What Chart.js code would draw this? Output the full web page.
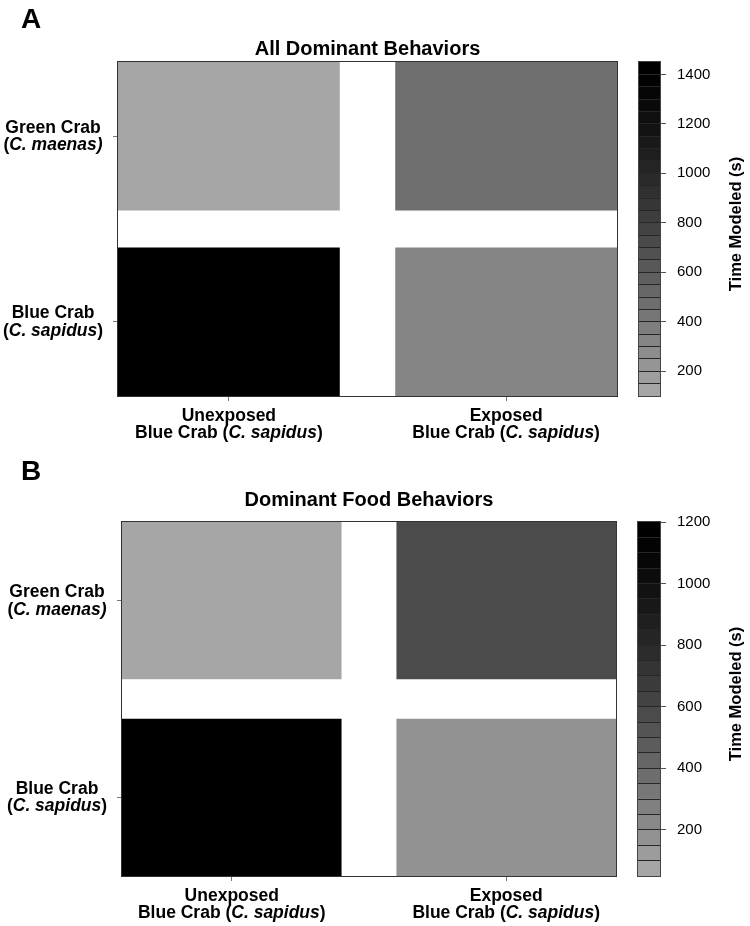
<!DOCTYPE html>
<html>
<head>
<meta charset="utf-8">
<script src="https://cdn.jsdelivr.net/npm/chart.js@4.4.1/dist/chart.umd.min.js"></script>
<style>
  html, body { margin: 0; padding: 0; background: #fff; }
  #wrap { position: relative; width: 750px; height: 926px; }
  #wrap canvas { position: absolute; left: 0; top: 0; }
</style>
</head>
<body>
<div id="wrap">
  <canvas id="heatA" width="750" height="926"></canvas>
  <canvas id="barA" width="750" height="926"></canvas>
  <canvas id="heatB" width="750" height="926"></canvas>
  <canvas id="barB" width="750" height="926"></canvas>
</div>
<script>
/* globals Chart:false */
(() => {
  'use strict'

  const FONT = "'Liberation Sans', Arial, Helvetica, sans-serif"
  Chart.defaults.font.family = FONT
  Chart.defaults.color = '#000'

  // columns: treatment of the focal blue crab
  const treatments = ['Unexposed', 'Exposed']
  // rows, top to bottom
  const species = ['Green Crab', 'Blue Crab']

  // time modeled (s), ordered like treatments
  const allGreen = [120, 470]
  const allBlue = [1440, 320]
  const foodGreen = [70, 560]
  const foodBlue = [1190, 170]

  // colour key ranges and ticks
  const allScale = [100, 1450]
  const foodScale = [50, 1200]
  const levelStep = 50
  const allTicks = [200, 400, 600, 800, 1000, 1200, 1400]
  const foodTicks = [200, 400, 600, 800, 1000, 1200]

  // tick labels, each line a list of [text, italic]
  const xLabelLines = treatments.map(t => [
    [[t, false]],
    [['Blue Crab (', false], ['C. sapidus', true], [')', false]]
  ])
  const yLabelLines = {
    'Green Crab': [[['Green Crab', false]], [['(', false], ['C. maenas)', true]]],
    'Blue Crab': [[['Blue Crab', false]], [['(', false], ['C. sapidus', true], [')', false]]]
  }

  const W = 750
  const H = 926
  const CELL = 0.8

  function grayFor(v, range) {
    const n = Math.round((range[1] - range[0]) / levelStep)
    const k = Math.min(n - 1, Math.max(0, Math.floor((v - range[0]) / levelStep)))
    const t = (n - 1 - k) / (n - 1)
    const g = Math.round(255 * 0.65 * Math.pow(t, 1.3))
    return `rgb(${g},${g},${g})`
  }

  function drawRich(ctx, segs, cx, y, size) {
    const fonts = segs.map(s => `${s[1] ? 'italic ' : ''}bold ${size}px ${FONT}`)
    let w = 0
    segs.forEach((s, k) => { ctx.font = fonts[k]; w += ctx.measureText(s[0]).width })
    let x = cx - w / 2
    ctx.textAlign = 'left'
    segs.forEach((s, k) => {
      ctx.font = fonts[k]
      ctx.fillText(s[0], x, y)
      x += ctx.measureText(s[0]).width
    })
  }

  function frame(chart, color) {
    const { ctx, chartArea: a } = chart
    ctx.save()
    ctx.strokeStyle = color
    ctx.lineWidth = 1
    ctx.strokeRect(a.left - 0.5, a.top - 0.5, a.right - a.left + 1, a.bottom - a.top + 1)
    ctx.restore()
  }

  const panelText = {
    id: 'panelText',
    afterDatasetsDraw(chart) {
      frame(chart, '#333')
    },
    afterDraw(chart, args, opts) {
      const { ctx, chartArea: a, scales } = chart
      ctx.save()
      ctx.fillStyle = '#000'
      ctx.textBaseline = 'alphabetic'

      ctx.font = `bold 28px ${FONT}`
      ctx.textAlign = 'left'
      ctx.fillText(opts.letter, opts.letterX, opts.letterY)

      ctx.font = `bold 20px ${FONT}`
      ctx.textAlign = 'center'
      ctx.fillText(opts.title, (a.left + a.right) / 2, opts.titleY)

      scales.x.ticks.forEach((tk, j) => {
        const x = scales.x.getPixelForValue(tk.value)
        drawRich(ctx, xLabelLines[j][0], x, a.bottom + 24.5, 17.5)
        drawRich(ctx, xLabelLines[j][1], x, a.bottom + 42, 17.5)
      })
      species.forEach((name, i) => {
        const y = scales.y.getPixelForValue(species.length - 1 - i)
        const lines = yLabelLines[name]
        drawRich(ctx, lines[0], a.left - 65, y - 3.5, 17.5)
        drawRich(ctx, lines[1], a.left - 65, y + 14, 17.5)
      })
      ctx.restore()
    }
  }

  const barTitle = {
    id: 'barTitle',
    afterDraw(chart, args, opts) {
      frame(chart, '#444')
      const { ctx, chartArea: a } = chart
      ctx.save()
      ctx.translate(opts.x, (a.top + a.bottom) / 2 - 5)
      ctx.rotate(-Math.PI / 2)
      ctx.font = `bold 16.5px ${FONT}`
      ctx.fillStyle = '#000'
      ctx.textAlign = 'center'
      ctx.textBaseline = 'middle'
      ctx.fillText(opts.text, 0, 0)
      ctx.restore()
    }
  }

  function axisMarks(values) {
    return {
      type: 'linear',
      offset: false,
      afterBuildTicks: s => { s.ticks = values.map(v => ({ value: v })) },
      ticks: { display: false },
      grid: { drawOnChartArea: false, offset: false, tickLength: 5, color: '#777' },
      border: { display: false }
    }
  }

  function heatmap(id, rows, range, L) {
    const datasets = species.map((name, i) => {
      const yc = species.length - 1 - i
      return {
        label: name,
        data: treatments.map((t, j) => ({ x: j, y: [yc - CELL / 2, yc + CELL / 2] })),
        backgroundColor: rows[i].map(v => grayFor(v, range)),
        borderWidth: 0,
        grouped: false,
        inflateAmount: 0,
        categoryPercentage: CELL,
        barPercentage: 1
      }
    })

    const xAxis = axisMarks(treatments.map((t, j) => j))
    xAxis.min = -CELL / 2
    xAxis.max = treatments.length - 1 + CELL / 2
    xAxis.afterFit = s => { s.height = 5 }

    const yAxis = axisMarks(species.map((n, i) => species.length - 1 - i))
    yAxis.min = -CELL / 2
    yAxis.max = species.length - 1 + CELL / 2
    yAxis.afterFit = s => { s.width = 5 }

    return new Chart(document.getElementById(id), {
      type: 'bar',
      data: { datasets },
      options: {
        responsive: false,
        animation: false,
        layout: {
          padding: { left: L.plot.left - 5, right: W - L.plot.right, top: L.plot.top, bottom: H - L.plot.bottom - 5 }
        },
        plugins: {
          legend: { display: false },
          tooltip: { enabled: false },
          panelText: { letter: L.letter, letterX: L.letterX, letterY: L.letterY, title: L.title, titleY: L.titleY }
        },
        scales: { x: xAxis, y: yAxis }
      },
      plugins: [panelText]
    })
  }

  function colorBar(id, range, ticks, L) {
    const levels = []
    for (let lo = range[0]; lo < range[1]; lo += levelStep) levels.push(lo)
    const datasets = levels.map(lo => ({
      data: [[lo, lo + levelStep]],
      backgroundColor: grayFor(lo, range),
      borderWidth: 0,
      grouped: false,
      inflateAmount: 0.5,
      barPercentage: 1,
      categoryPercentage: 1
    }))

    return new Chart(document.getElementById(id), {
      type: 'bar',
      data: { labels: [''], datasets },
      options: {
        responsive: false,
        animation: false,
        layout: {
          padding: { left: L.bar.left, right: 0, top: L.plot.top, bottom: H - L.plot.bottom }
        },
        plugins: {
          legend: { display: false },
          tooltip: { enabled: false },
          barTitle: { text: 'Time Modeled (s)', x: 736 }
        },
        scales: {
          x: { display: false },
          y: {
            position: 'right',
            min: range[0],
            max: range[1],
            afterBuildTicks: s => { s.ticks = ticks.map(v => ({ value: v })) },
            afterFit: s => { s.width = W - L.bar.right },
            ticks: { font: { size: 15 }, color: '#000', padding: 11, callback: v => String(v) },
            grid: { drawOnChartArea: false, tickLength: 6, color: '#555' },
            border: { display: false }
          },
          // separators between colour levels, drawn over the bars
          levels: {
            type: 'linear',
            position: 'right',
            min: range[0],
            max: range[1],
            afterBuildTicks: s => { s.ticks = levels.map(v => ({ value: v })) },
            afterFit: s => { s.width = 0 },
            ticks: { display: false },
            grid: { z: 1, drawOnChartArea: true, drawTicks: false, color: '#262626', lineWidth: 1 },
            border: { display: false }
          }
        }
      },
      plugins: [barTitle]
    })
  }

  const layoutA = {
    plot: { left: 118, right: 617, top: 62, bottom: 396 },
    bar: { left: 639, right: 660 },
    letter: 'A', letterX: 21, letterY: 28,
    title: 'All Dominant Behaviors', titleY: 55
  }
  const layoutB = {
    plot: { left: 122, right: 616, top: 522, bottom: 876 },
    bar: { left: 638, right: 660 },
    letter: 'B', letterX: 21, letterY: 480,
    title: 'Dominant Food Behaviors', titleY: 506
  }

  heatmap('heatA', [allGreen, allBlue], allScale, layoutA)
  colorBar('barA', allScale, allTicks, layoutA)
  heatmap('heatB', [foodGreen, foodBlue], foodScale, layoutB)
  colorBar('barB', foodScale, foodTicks, layoutB)
})()
</script>
</body>
</html>
